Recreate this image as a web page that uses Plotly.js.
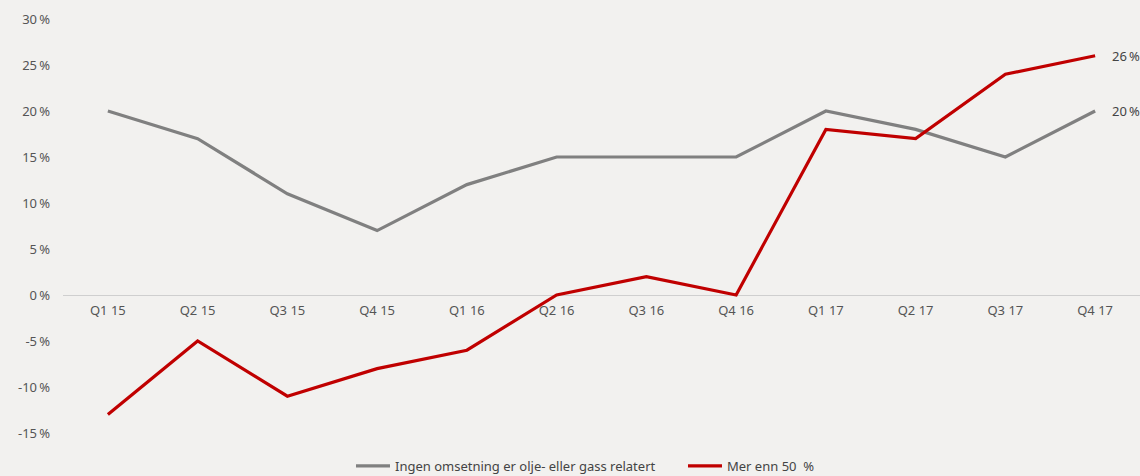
<!DOCTYPE html>
<html>
<head>
<meta charset="utf-8">
<script src="https://cdn.plot.ly/plotly-3.0.1.min.js"></script>
<style>html,body{margin:0;padding:0;background:#f2f1ef;}#chart{width:1140px;height:476px;}</style>
</head>
<body>
<div id="chart"></div>
<script>
const categories = ["Q1 15","Q2 15","Q3 15","Q4 15","Q1 16","Q2 16","Q3 16","Q4 16","Q1 17","Q2 17","Q3 17","Q4 17"];
const seriesNames = ["Ingen omsetning er olje- eller gass relatert", "Mer enn 50  %"];
const ingen = [20, 17, 11, 7, 12, 15, 15, 15, 20, 18, 15, 20];
const merEnn50 = [-13, -5, -11, -8, -6, 0, 2, 0, 18, 17, 24, 26];
const yTicks = [-15, -10, -5, 0, 5, 10, 15, 20, 25, 30];

const font = "'Noto Sans', 'Open Sans', sans-serif";
const traces = [
  {x: categories, y: ingen, name: seriesNames[0], type: 'scatter', mode: 'lines',
   line: {color: '#808080', width: 3.2}},
  {x: categories, y: merEnn50, name: seriesNames[1], type: 'scatter', mode: 'lines',
   line: {color: '#c00000', width: 3.2}}
];
const last = categories.length - 1;
const layout = {
  width: 1140, height: 476,
  paper_bgcolor: '#f2f1ef', plot_bgcolor: '#f2f1ef',
  margin: {l: 63, r: 0, t: 19, b: 43, autoexpand: false},
  font: {family: font, size: 13, color: '#555555'},
  showlegend: true,
  legend: {orientation: 'h', x: 0.2674, xanchor: 'left', y: -0.0797, yanchor: 'middle',
           font: {family: font, size: 13, color: '#444444'}, bgcolor: 'rgba(0,0,0,0)',
           itemwidth: 34, traceorder: 'normal', entrywidth: 283, entrywidthmode: 'pixels'},
  xaxis: {type: 'category', range: [-0.5, 11.5], anchor: 'free', position: 1/3,
          showgrid: false, showline: false, zeroline: false, ticks: '', ticklabelstandoff: 6,
          tickfont: {family: font, size: 13, color: '#555555'}, fixedrange: true},
  yaxis: {range: [-15, 30], tickvals: yTicks, ticktext: yTicks.map(v => v + '\u2009%'),
          showgrid: false, zeroline: true, zerolinecolor: '#cfcfcf', zerolinewidth: 1,
          showline: false, ticks: '', ticklabelstandoff: 12,
          tickfont: {family: font, size: 13, color: '#555555'}, fixedrange: true},
  annotations: [
    {x: categories[last], y: merEnn50[last], text: merEnn50[last] + '\u2009%', showarrow: false,
     xanchor: 'left', xshift: 15, font: {family: font, size: 13, color: '#444444'}},
    {x: categories[last], y: ingen[last], text: ingen[last] + '\u2009%', showarrow: false,
     xanchor: 'left', xshift: 15, font: {family: font, size: 13, color: '#444444'}}
  ]
};
Plotly.newPlot('chart', traces, layout, {displayModeBar: false, staticPlot: true});
</script>
</body>
</html>
